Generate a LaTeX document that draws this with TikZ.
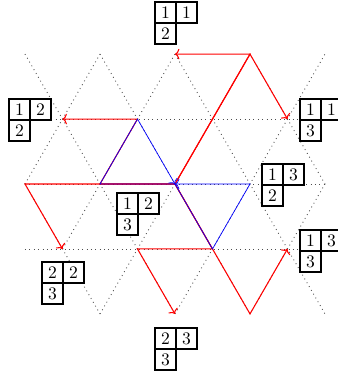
\documentclass[tikz,border=0pt]{standalone}
\usetikzlibrary{arrows.meta}
\definecolor{lattice}{HTML}{4D4D4D}
\definecolor{pathred}{HTML}{FF0000}
\definecolor{pathblue}{HTML}{0000FF}
\definecolor{ink}{HTML}{000000}

% tableau of shape (2,1): name, top-left corner, three entries
\newcommand{\ytab}[5]{%
  \node[cell,anchor=north west] (#1a) at #2 {#3};
  \node[cell,anchor=west] (#1b) at (#1a.east) {#4};
  \node[cell,anchor=north] (#1c) at (#1a.south) {#5};}

\begin{document}
\begin{tikzpicture}[x=1.5cm,y=1.5cm,
  grid/.style={lattice,dotted,line width=0.5pt},
  redpath/.style={-{To[length=2.5pt,width=6pt]},pathred,line width=0.6pt},
  bluepath/.style={-{To[length=2.5pt,width=6pt]},pathblue,line width=0.4pt},
  cell/.style={draw=ink,fill=white,line width=1.35pt,minimum size=0.42cm,inner sep=0pt,outer sep=0pt}]
  \def\h{0.866}
  \useasboundingbox (-2.3333,-2.5467) rectangle (2.1733,2.4533);

  % ===== lattice =====
  \draw[grid] (-2,\h) -- (2,\h);
  \draw[grid] (-2,0) -- (2,0);
  \draw[grid] (-2,-\h) -- (2,-\h);
  \draw[grid] (-2,0) -- (-1,2*\h);
  \draw[grid] (-1.5,-\h) -- (0,2*\h);
  \draw[grid] (-1,-2*\h) -- (1,2*\h);
  \draw[grid] (0,-2*\h) -- (2,2*\h);
  \draw[grid] (1,-2*\h) -- (2,0);
  \draw[grid] (-2,0) -- (-1,-2*\h);
  \draw[grid] (-2,2*\h) -- (0,-2*\h);
  \draw[grid] (-1,2*\h) -- (1,-2*\h);
  \draw[grid] (0,2*\h) -- (2,-2*\h);
  \draw[grid] (1,2*\h) -- (2,0);

  % ===== lattice points on the paths =====
  \coordinate (O) at (0,0);
  \coordinate (ur) at (1,2*\h);
  \coordinate (w) at (-1,0);
  \coordinate (ww) at (-2,0);
  \coordinate (ul) at (-0.5,\h);
  \coordinate (dr) at (0.5,-\h);
  \coordinate (dl) at (-0.5,-\h);
  \coordinate (ddr) at (1,-2*\h);
  \coordinate (e) at (1,0);
  \coordinate (p112) at (0,2*\h);
  \coordinate (p113) at (1.5,\h);
  \coordinate (p122) at (-1.5,\h);
  \coordinate (p223) at (-1.5,-\h);
  \coordinate (p233) at (0,-2*\h);
  \coordinate (p133) at (1.5,-\h);

  % ===== red paths =====
  \draw[redpath] (O) -- (ur) -- (p112);
  \draw[redpath] (O) -- (ur) -- (p113);
  \draw[redpath] (O) -- (w) -- (ul) -- (p122);
  \draw[redpath] (O) -- (w) -- (ww) -- (p223);
  \draw[redpath] (O) -- (dr) -- (dl) -- (p233);
  \draw[redpath] (O) -- (dr) -- (ddr) -- (p133);

  % ===== blue loops =====
  \draw[bluepath] (O) -- (w) -- (ul) -- (O);
  \draw[bluepath] (O) -- (dr) -- (e) -- (O);

  % ===== tableaux =====
  \ytab{t112}{(-0.267,2.427)}{1}{1}{2}
  \ytab{t122}{(-2.213,1.133)}{1}{2}{2}
  \ytab{t113}{(1.667,1.133)}{1}{1}{3}
  \ytab{t132}{(1.160,0.267)}{1}{3}{2}
  \ytab{t133}{(1.667,-0.613)}{1}{3}{3}
  \ytab{t223}{(-1.773,-1.040)}{2}{2}{3}
  \ytab{t123}{(-0.773,-0.120)}{1}{2}{3}
  \ytab{t233}{(-0.267,-1.920)}{2}{3}{3}
\end{tikzpicture}
\end{document}
